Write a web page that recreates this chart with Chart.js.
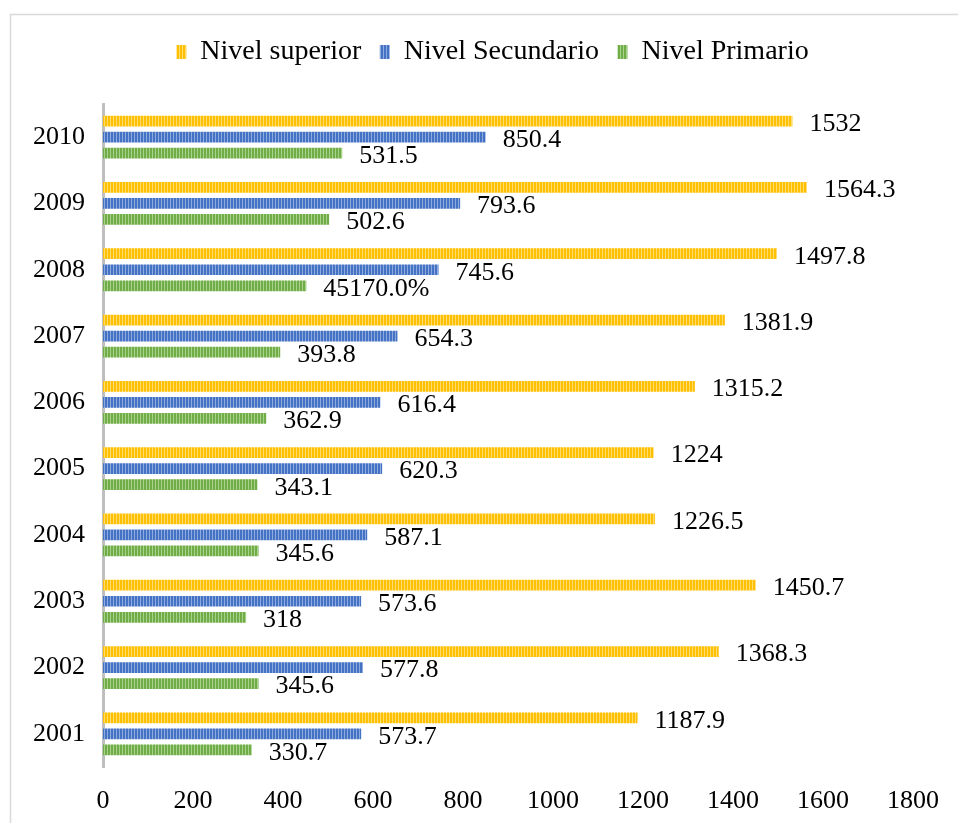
<!DOCTYPE html>
<html>
<head>
<meta charset="utf-8">
<script src="https://cdn.jsdelivr.net/npm/chart.js@4.4.0/dist/chart.umd.min.js"></script>
<style>
  html, body { margin: 0; padding: 0; background: #fff; }
  #wrap { width: 958px; height: 823px; }
</style>
</head>
<body>
<div id="wrap"><canvas id="c" width="958" height="823"></canvas></div>
<script>
const years = ['2010','2009','2008','2007','2006','2005','2004','2003','2002','2001'];
const seriesNames = ['Nivel superior','Nivel Secundario','Nivel Primario'];
const superior   = [1532, 1564.3, 1497.8, 1381.9, 1315.2, 1224, 1226.5, 1450.7, 1368.3, 1187.9];
const secundario = [850.4, 793.6, 745.6, 654.3, 616.4, 620.3, 587.1, 573.6, 577.8, 573.7];
const primario   = [531.5, 502.6, 451.7, 393.8, 362.9, 343.1, 345.6, 318, 345.6, 330.7];
const superiorLabels   = ['1532','1564.3','1497.8','1381.9','1315.2','1224','1226.5','1450.7','1368.3','1187.9'];
const secundarioLabels = ['850.4','793.6','745.6','654.3','616.4','620.3','587.1','573.6','577.8','573.7'];
const primarioLabels   = ['531.5','502.6','45170.0%','393.8','362.9','343.1','345.6','318','345.6','330.7'];
const xTicks = [0,200,400,600,800,1000,1200,1400,1600,1800];

function stripe(base, light) {
  const p = document.createElement('canvas');
  p.width = 3; p.height = 4;
  const g = p.getContext('2d');
  g.fillStyle = base; g.fillRect(0,0,2,4);
  g.fillStyle = light; g.fillRect(2,0,1,4);
  return g.createPattern(p, 'repeat');
}
const ctx = document.getElementById('c').getContext('2d');
const pats = [
  stripe('#FFC000', '#FFDB70'),
  stripe('#4472C4', '#8FAADC'),
  stripe('#70AD47', '#A9D18E')
];
const allLabels = [superiorLabels, secundarioLabels, primarioLabels];
const FONT = 'Liberation Serif, Times New Roman, serif';

const borderPlugin = {
  id: 'frame',
  beforeDraw(chart) {
    const c = chart.ctx;
    c.save();
    c.strokeStyle = '#d9d9d9';
    c.lineWidth = 1.5;
    c.strokeRect(10.5, 14.5, 1000, 900);
    c.restore();
  }
};
const legendFix = {
  id: 'legendFix',
  beforeLayout(chart) {
    const lg = chart.legend;
    if (lg && !lg._fixedH) {
      const f = lg.fit;
      lg.fit = function () { f.call(this); this.height = 84.5; };
      lg._fixedH = true;
    }
  },
  afterLayout(chart) {
    const lg = chart.legend;
    if (lg) { lg.left += 31; lg.right += 31; }
  }
};
const valueLabels = {
  id: 'valueLabels',
  afterDatasetsDraw(chart) {
    const c = chart.ctx;
    c.save();
    c.font = '26px ' + FONT;
    c.fillStyle = '#000';
    c.textAlign = 'left';
    c.textBaseline = 'middle';
    chart.data.datasets.forEach((ds, di) => {
      chart.getDatasetMeta(di).data.forEach((el, i) => {
        c.fillText(allLabels[di][i], el.x + 17, el.y + 3);
      });
    });
    c.restore();
  }
};

new Chart(ctx, {
  type: 'bar',
  data: {
    labels: years,
    datasets: [
      { label: seriesNames[0], data: superior,   backgroundColor: pats[0], borderWidth: 0 },
      { label: seriesNames[1], data: secundario, backgroundColor: pats[1], borderWidth: 0 },
      { label: seriesNames[2], data: primario,   backgroundColor: pats[2], borderWidth: 0 }
    ]
  },
  options: {
    indexAxis: 'y',
    responsive: false,
    animation: false,
    devicePixelRatio: 1,
    categoryPercentage: 0.725,
    barPercentage: 0.67,
    layout: { padding: { left: 10, right: 45, top: 19.5, bottom: 4 } },
    plugins: {
      legend: {
        position: 'top',
        labels: {
          boxWidth: 10,
          boxHeight: 14,
          padding: 18.5,
          color: '#000',
          font: { family: FONT, size: 28 }
        }
      },
      tooltip: { enabled: false }
    },
    scales: {
      x: {
        min: 0, max: 1800,
        afterBuildTicks(s) { s.ticks = xTicks.map(v => ({ value: v })); },
        afterFit(s) { s.height = 52; },
        grid: { display: false, drawTicks: false },
        border: { display: false },
        ticks: { color: '#000', padding: 19, font: { family: FONT, size: 26 },
                 callback: (v) => String(v) }
      },
      y: {
        grid: { display: false, drawTicks: false },
        border: { display: true, color: '#bfbfbf', width: 3 },
        afterFit(s) { s.width = 93; },
        ticks: { color: '#000', padding: 18, font: { family: FONT, size: 26 } }
      }
    }
  },
  plugins: [borderPlugin, legendFix, valueLabels]
});
</script>
</body>
</html>
